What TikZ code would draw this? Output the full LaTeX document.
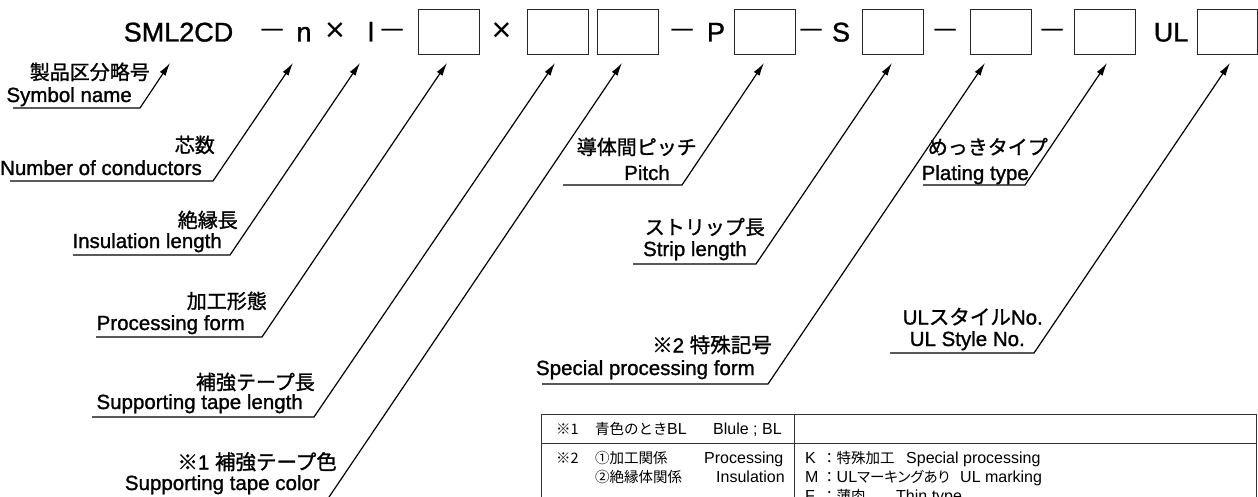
\documentclass[tikz,border=0pt]{standalone}
\usepackage{fontspec}
\setmainfont{Liberation Sans}
\newfontfamily\jp{Noto Sans CJK JP}
\newfontfamily\jpp{Noto Sans CJK JP}[RawFeature=+palt]
\newfontfamily\labf{Liberation Sans}[FakeBold=1.2]
\newfontfamily\jpb{Noto Sans CJK JP}[FakeBold=1.2]
\usetikzlibrary{arrows.meta}
\begin{document}
\begin{tikzpicture}[x=1pt,y=-1pt,
  slot/.style={draw=black!85, line width=0.9pt, minimum width=61pt, minimum height=45pt, inner sep=0pt, anchor=north west},
  big/.style={font=\labf\fontsize{27}{27}\selectfont, inner sep=0pt, anchor=base},
  dsh/.style={font=\labf\fontsize{21}{21}\selectfont, inner sep=0pt, anchor=base},
  tms/.style={font=\fontsize{34}{34}\selectfont, inner sep=0pt, anchor=base},
  lab/.style={font=\labf\fontsize{20.5}{21}\selectfont, inner sep=0pt, anchor=base east},
  jl/.style={font=\jpb\fontsize{20}{20}\selectfont, inner sep=0pt, anchor=base east},
  lead/.style={line width=1.2pt, -{Latex[length=13pt,width=7pt]}},
  tbl/.style={line width=0.7pt, draw=black!80},
  tt/.style={font=\fontsize{16}{16}\selectfont, inner sep=0pt, anchor=base west},
  tj/.style={font=\jp\fontsize{14.5}{15}\selectfont, inner sep=0pt, anchor=base west},
]
\useasboundingbox (0,0) rectangle (1258,497);
\clip (0,0) rectangle (1258,497);

% ---- top row ----
\node[big] (sml) at (178.5,41.5) {SML2CD};
\node[dsh] (d1) at (272,35) {—};
\node[big] (nn) at (304,41.5) {n};
\node[tms] (x1) at (335,41.5) {×};
\node[big] (ll) at (371,41.5) {l};
\node[dsh] (d2) at (392,35) {—};
\node[slot] (b1) at (418,9) {};
\node[tms] (x2) at (501.5,41.5) {×};
\node[slot] (b2) at (527,9) {};
\node[slot] (b3) at (597,9) {};
\node[dsh] (d3) at (682,35) {—};
\node[big] (pp) at (716,41.5) {P};
\node[slot] (bP) at (734,9) {};
\node[dsh] (d4) at (811,35) {—};
\node[big] (ss) at (841,41.5) {S};
\node[slot] (bS) at (862,9) {};
\node[dsh] (d5) at (945,35) {—};
\node[slot] (b5) at (970,9) {};
\node[dsh] (d6) at (1052,35) {—};
\node[slot] (b6) at (1074,9) {};
\node[big] (ul) at (1171,41.5) {UL};
\node[slot, minimum width=60pt] (bU) at (1197,9) {};

% ---- arrow tips ----
\coordinate (t1) at (170,63);
\coordinate (t2) at (293,63);
\coordinate (t3) at (360,63);
\coordinate (t4) at (447,63);
\coordinate (t5) at (555,63);
\coordinate (t6) at (622,63);
\coordinate (t7) at (764,63);
\coordinate (t8) at (892,63);
\coordinate (t9) at (985,63);
\coordinate (t10) at (1107,63);
\coordinate (t11) at (1230,63);

% ---- underline points ----
\coordinate (a1) at (13,108);   \coordinate (e1) at (140,108);
\coordinate (a2) at (10,181);   \coordinate (e2) at (213,181);
\coordinate (a3) at (73,255);   \coordinate (e3) at (230,255);
\coordinate (a4) at (96,337);   \coordinate (e4) at (262,337);
\coordinate (a5) at (92,417);   \coordinate (e5) at (314,417);
\coordinate (a6) at (122,503);  \coordinate (e6) at (325,503);
\coordinate (a7) at (563,185);  \coordinate (e7) at (682,185);
\coordinate (a8) at (633,264);  \coordinate (e8) at (756,264);
\coordinate (a9) at (542,384);  \coordinate (e9) at (768,384);
\coordinate (a10) at (923,185); \coordinate (e10) at (1025,185);
\coordinate (a11) at (890,353); \coordinate (e11) at (1034,353);

\foreach \i in {1,...,11} {
  \draw[lead] (a\i) -- (e\i) -- (t\i);
}

% ---- labels ----
\node[jl]  (j1) at (150,79.5) {製品区分略号};
\node[lab] (l1) at (132,102) {Symbol name};
\node[jl]  (j2) at (215,152.5) {芯数};
\node[lab] (l2) at (202,175) {Number of conductors};
\node[jl]  (j3) at (238,227.5) {絶縁長};
\node[lab] (l3) at (222,248) {Insulation length};
\node[jl]  (j4) at (267,308.5) {加工形態};
\node[lab] (l4) at (245,330) {Processing form};
\node[jl]  (j5) at (315,389.5) {補強テープ長};
\node[lab] (l5) at (303,409) {Supporting tape length};
\node[lab] (j6) at (337,469.5) {{\jpb ※}1 {\jpb 補強テープ色}};
\node[lab] (l6) at (320,490) {Supporting tape color};
\node[jl]  (j7) at (697,154.5) {導体間ピッチ};
\node[lab] (l7) at (670,180) {Pitch};
\node[jl]  (j8) at (765,234.5) {ストリップ長};
\node[lab] (l8) at (747,256) {Strip length};
\node[lab] (j9) at (772,352.5) {{\jpb ※}2 {\jpb 特殊記号}};
\node[lab] (l9) at (755,375) {Special processing form};
\node[jl]  (j10) at (1048,154.5) {めっきタイプ};
\node[lab] (l10) at (1029,180) {Plating type};
\node[lab] (j11) at (1043,324.5) {UL{\jpb スタイル}No.};
\node[lab] (l11) at (1025,346) {UL Style No.};

% ---- table ----
\draw[tbl] (541,520) -- (541,414) -- (1256,414) -- (1256,520);
\draw[tbl] (541,443) -- (1256,443);
\draw[tbl] (794,414) -- (794,520);

\node[tj] (r1a) at (556,434) {※1};
\node[tj] (r1b) at (595,434) {青色のとき};
\node[tt] (r1c) at (667,434) {BL};
\node[tt] (r1d) at (713,434) {Blule ; BL};

\node[tj] (r2a) at (556,463) {※2};
\node[tj] (r2b) at (595,463) {①加工関係};
\node[tt] (r2c) at (704,463) {Processing};
\node[tj] (r3b) at (595,482) {②絶縁体関係};
\node[tt] (r3c) at (716,482) {Insulation};

\node[tt] (k1) at (805,463) {K};
\node[tj] (k2) at (822,463) {：特殊加工};
\node[tt] (k3) at (906,463) {Special processing};
\node[tt] (m1) at (805,482) {M};
\node[tj, font=\jpp\fontsize{14.5}{15}\selectfont] (m2) at (822,482) {{\jp ：}{\fontspec{Liberation Sans}\fontsize{16}{16}\selectfont UL}マーキングあり};
\node[tt] (m3) at (960,482) {UL marking};
\node[tt] (f1) at (805,501) {F};
\node[tj] (f2) at (822,501) {：薄肉};
\node[tt] (f3) at (896,501) {Thin type};
\end{tikzpicture}
\end{document}
